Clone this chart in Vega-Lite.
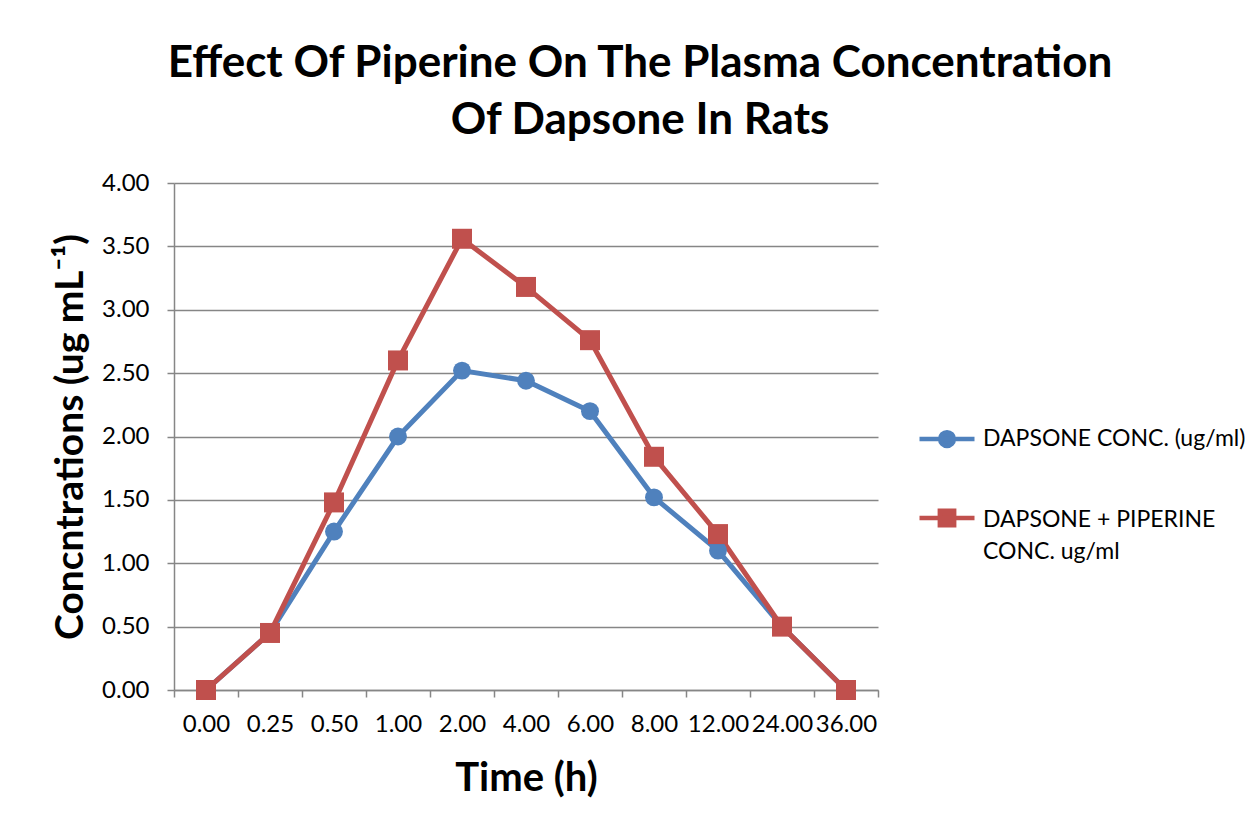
{
  "$schema": "https://vega.github.io/schema/vega-lite/v6.json",
  "width": 704,
  "height": 507,
  "autosize": {"type": "none"},
  "padding": {"left": 174, "top": 183, "right": 382, "bottom": 135},
  "background": "white",
  "title": {
    "text": ["Effect Of Piperine On The Plasma Concentration", "Of Dapsone In Rats"],
    "font": "Lato",
    "fontSize": 44,
    "fontWeight": "bold",
    "color": "black",
    "anchor": "middle",
    "dx": 114,
    "lineHeight": 57,
    "offset": 28
  },
  "config": {"view": {"stroke": null}, "font": "Lato"},
  "data": {
    "values": [
      {"time": "0.00", "series": "DAPSONE CONC. (ug/ml)", "conc": 0},
      {"time": "0.25", "series": "DAPSONE CONC. (ug/ml)", "conc": 0.45},
      {"time": "0.50", "series": "DAPSONE CONC. (ug/ml)", "conc": 1.25},
      {"time": "1.00", "series": "DAPSONE CONC. (ug/ml)", "conc": 2.0},
      {"time": "2.00", "series": "DAPSONE CONC. (ug/ml)", "conc": 2.52},
      {"time": "4.00", "series": "DAPSONE CONC. (ug/ml)", "conc": 2.44},
      {"time": "6.00", "series": "DAPSONE CONC. (ug/ml)", "conc": 2.2},
      {"time": "8.00", "series": "DAPSONE CONC. (ug/ml)", "conc": 1.52},
      {"time": "12.00", "series": "DAPSONE CONC. (ug/ml)", "conc": 1.1},
      {"time": "24.00", "series": "DAPSONE CONC. (ug/ml)", "conc": 0.5},
      {"time": "36.00", "series": "DAPSONE CONC. (ug/ml)", "conc": 0},
      {"time": "0.00", "series": "DAPSONE + PIPERINE CONC. ug/ml", "conc": 0},
      {"time": "0.25", "series": "DAPSONE + PIPERINE CONC. ug/ml", "conc": 0.45},
      {"time": "0.50", "series": "DAPSONE + PIPERINE CONC. ug/ml", "conc": 1.48},
      {"time": "1.00", "series": "DAPSONE + PIPERINE CONC. ug/ml", "conc": 2.6},
      {"time": "2.00", "series": "DAPSONE + PIPERINE CONC. ug/ml", "conc": 3.56},
      {"time": "4.00", "series": "DAPSONE + PIPERINE CONC. ug/ml", "conc": 3.18},
      {"time": "6.00", "series": "DAPSONE + PIPERINE CONC. ug/ml", "conc": 2.76},
      {"time": "8.00", "series": "DAPSONE + PIPERINE CONC. ug/ml", "conc": 1.84},
      {"time": "12.00", "series": "DAPSONE + PIPERINE CONC. ug/ml", "conc": 1.23},
      {"time": "24.00", "series": "DAPSONE + PIPERINE CONC. ug/ml", "conc": 0.5},
      {"time": "36.00", "series": "DAPSONE + PIPERINE CONC. ug/ml", "conc": 0}
    ]
  },
  "encoding": {
    "x": {
      "field": "time",
      "type": "ordinal",
      "sort": null,
      "bandPosition": 0.5,
      "scale": {"type": "band", "paddingInner": 0, "paddingOuter": 0},
      "axis": {
        "title": "Time (h)",
        "titleFont": "Lato",
        "titleFontSize": 40,
        "titleFontWeight": "bold",
        "titleColor": "black",
        "titleY": 100,
        "titleBaseline": "alphabetic",
        "labelAngle": 0,
        "labelFont": "Lato",
        "labelFontSize": 24,
        "labelColor": "black",
        "labelPadding": 15,
        "tickBand": "extent",
        "tickSize": 7,
        "tickColor": "#868686",
        "tickWidth": 1.5,
        "domainColor": "#868686",
        "domainWidth": 1.5,
        "grid": false
      }
    },
    "y": {
      "field": "conc",
      "type": "quantitative",
      "scale": {"domain": [0, 4]},
      "axis": {
        "title": "Concntrations (ug mL⁻¹)",
        "titleFont": "Lato",
        "titleFontSize": 39,
        "titleFontWeight": "bold",
        "titleColor": "black",
        "titleAngle": 270,
        "titleX": -104,
        "titleY": 253.5,
        "titleAlign": "center",
        "titleBaseline": "middle",
        "values": [0, 0.5, 1, 1.5, 2, 2.5, 3, 3.5, 4],
        "format": ".2f",
        "labelFont": "Lato",
        "labelFontSize": 24,
        "labelColor": "black",
        "labelPadding": 18,
        "tickSize": 7,
        "tickColor": "#868686",
        "tickWidth": 1.5,
        "domainColor": "#868686",
        "domainWidth": 1.5,
        "gridColor": "#868686",
        "gridWidth": 1.5
      }
    }
  },
  "layer": [
    {
      "mark": {"type": "line", "strokeWidth": 5},
      "encoding": {
        "color": {
          "field": "series",
          "type": "nominal",
          "scale": {
            "domain": ["DAPSONE CONC. (ug/ml)", "DAPSONE + PIPERINE CONC. ug/ml"],
            "range": ["#4F81BD", "#C0504D"]
          },
          "legend": {
            "orient": "none",
            "legendX": 743,
            "legendY": 226,
            "title": null,
            "symbolSize": 3025,
            "symbolType": "M-1,0L1,0",
            "labelFont": "Lato",
            "labelFontSize": 23,
            "labelColor": "black",
            "labelOffset": 6,
            "labelLimit": 400,
            "rowPadding": 33,
            "labelExpr": "datum.label == 'DAPSONE + PIPERINE CONC. ug/ml' ? ['DAPSONE + PIPERINE', 'CONC. ug/ml'] : datum.label",
            "encode": {
              "symbols": {
                "update": {
                  "shape": {"signal": "datum.value == 'DAPSONE CONC. (ug/ml)' ? 'M-1,0L1,0M0.25,0A0.25,0.25,0,1,1,-0.25,0A0.25,0.25,0,1,1,0.25,0Z' : 'M-1,0L1,0M-0.26,-0.26L0.26,-0.26L0.26,0.26L-0.26,0.26Z'"},
                  "fill": {"scale": "color", "field": "value"},
                  "stroke": {"scale": "color", "field": "value"},
                  "strokeWidth": {"value": 4.5},
                  "opacity": {"value": 1},
                  "fillOpacity": {"value": 1}
                }
              },
              "labels": {
                "update": {
                  "lineHeight": {"value": 32},
                  "dy": {"signal": "datum.value == 'DAPSONE + PIPERINE CONC. ug/ml' ? 2 : 0"}
                }
              }
            }
          }
        }
      }
    },
    {
      "mark": {"type": "point", "filled": true, "opacity": 1},
      "encoding": {
        "color": {"field": "series", "type": "nominal", "legend": null},
        "shape": {
          "condition": {"test": "datum.series == 'DAPSONE CONC. (ug/ml)'", "value": "circle"},
          "value": "square"
        },
        "size": {
          "condition": {"test": "datum.series == 'DAPSONE CONC. (ug/ml)'", "value": 320},
          "value": 400
        }
      }
    }
  ]
}
